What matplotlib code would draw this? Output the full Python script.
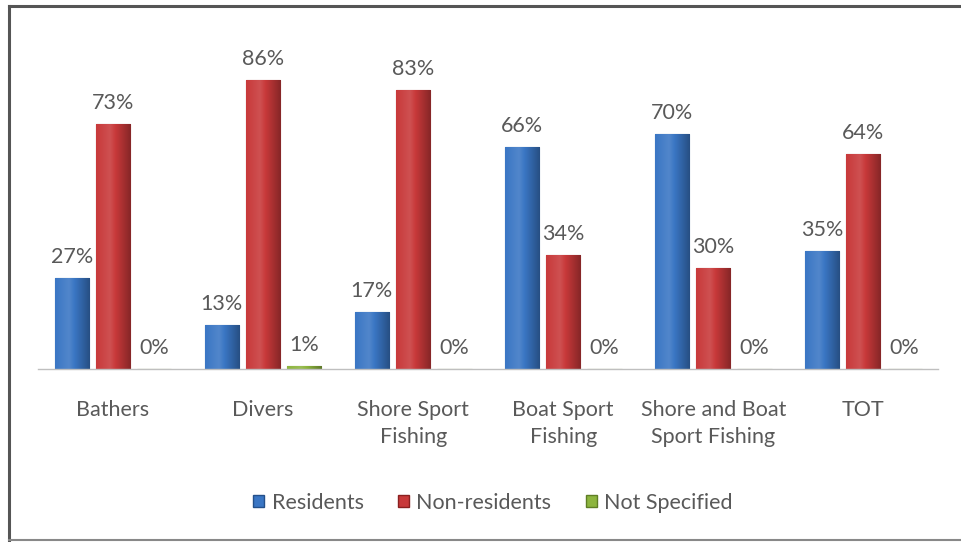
import numpy as np
import matplotlib
matplotlib.use("Agg")
import matplotlib.pyplot as plt
from matplotlib.lines import Line2D
from matplotlib.colors import to_rgb

categories = ["Bathers", "Divers", "Shore Sport\nFishing", "Boat Sport\nFishing",
              "Shore and Boat\nSport Fishing", "TOT"]
series_names = ["Residents", "Non-residents", "Not Specified"]
residents = [27, 13, 17, 66, 70, 35]
non_residents = [73, 86, 83, 34, 30, 64]
not_specified = [0, 1, 0, 0, 0, 0]
series = [residents, non_residents, not_specified]
colors = ["#3a76c4", "#c8393a", "#8db53e"]
edges = ["#24508a", "#8a2020", "#5f7e25"]

plt.rcParams['font.family'] = ['Lato', 'DejaVu Sans']
TXT = "#595959"
FS = 15.5

fig = plt.figure(figsize=(9.61, 5.42), dpi=100)
ax = fig.add_axes([0.0395, 0.319, 0.937, 0.62])
ax.set_xlim(-0.5, 5.5)
ax.set_ylim(0, 100)

x = np.arange(len(categories))
width = 0.228
offsets = [-0.275, 0.0, 0.275]


def shade(c, f):
    r = np.array(to_rgb(c))
    if f >= 0:
        return r + (1 - r) * f
    return r * (1 + f)

for s, (vals, col, ec, off) in enumerate(zip(series, colors, edges, offsets)):
    bars = ax.bar(x + off, vals, width, color=col, edgecolor=ec, linewidth=0.8,
                  label=series_names[s], zorder=3)
    for b, v in zip(bars, vals):
        x0, w = b.get_x(), b.get_width()
        h = b.get_height()
        if h > 0:
            t = np.linspace(0, 1, 64)
            prof = np.where(t < 0.4, 0.12 * (t / 0.4), 0.12 - 0.45 * (t - 0.4) / 0.6)
            img = np.array([[shade(col, p) for p in prof]])
            im = ax.imshow(img, extent=[x0, x0 + w, 0, h], aspect='auto',
                           zorder=3.5, interpolation='bicubic')
            im.set_clip_path(b)
        ax.annotate(f"{v}%", (x0 + w / 2, v), xytext=(0, 8), textcoords="offset points",
                    ha="center", va="bottom", fontsize=FS, color=TXT, zorder=5)

ax.set_xticks(x)
ax.set_xticklabels(categories, fontsize=FS, color=TXT, linespacing=1.45, va="top")
ax.tick_params(axis='x', length=0, pad=22)
ax.set_yticks([])
for sp in ["top", "right", "left"]:
    ax.spines[sp].set_visible(False)
ax.spines["bottom"].set_color("#bfbfbf")
ax.spines["bottom"].set_linewidth(1.0)
ax.spines["bottom"].set_zorder(6)

leg = fig.legend(handles=[plt.Rectangle((0, 0), 1, 1, fc=c, ec=e) for c, e in zip(colors, edges)],
                 labels=series_names, loc="center", bbox_to_anchor=(0.513, 0.072),
                 ncol=3, frameon=False, fontsize=FS, handlelength=0.5, handleheight=0.5,
                 handletextpad=0.35, columnspacing=1.6)
for t in leg.get_texts():
    t.set_color(TXT)

lc = "#555555"
fig.add_artist(Line2D([0.0093, 1.0], [0.9885, 0.9885], color=lc, lw=2.2, transform=fig.transFigure))
fig.add_artist(Line2D([0.0093, 0.0093], [0.0035, 0.9885], color=lc, lw=2.2, transform=fig.transFigure))
fig.add_artist(Line2D([0.0093, 1.0], [0.004, 0.004], color="#888888", lw=1.5, transform=fig.transFigure))

fig.savefig("out.png", dpi=100)
